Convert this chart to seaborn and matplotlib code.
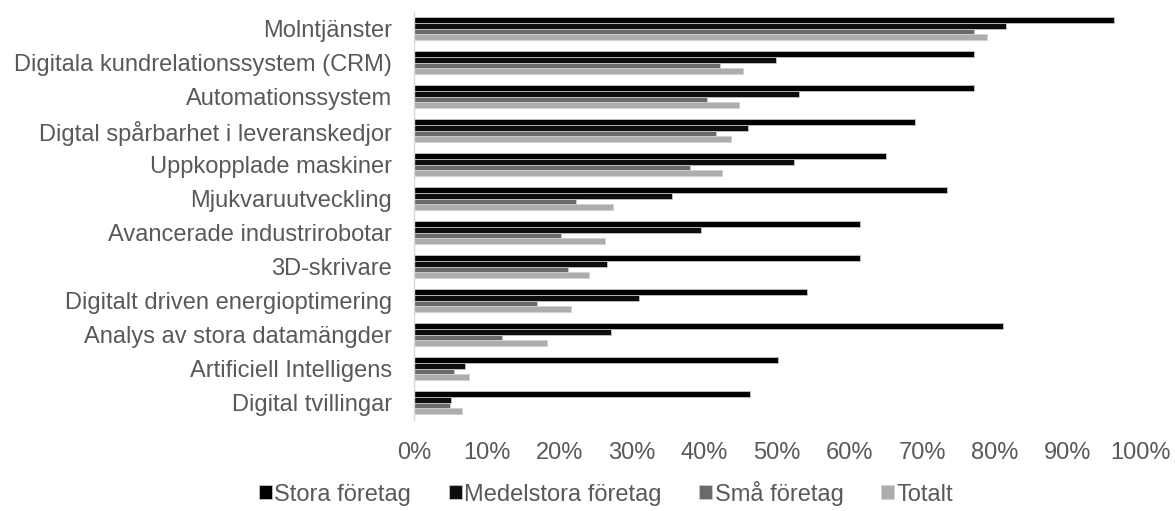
import matplotlib
matplotlib.use("Agg")
import matplotlib.pyplot as plt
import matplotlib.ticker as mticker
import pandas as pd
import seaborn as sns

# Share of companies using each digital technology, by company size (%)
categories = [
    "Molntjänster",
    "Digitala kundrelationssystem (CRM)",
    "Automationssystem",
    "Digtal spårbarhet i leveranskedjor",
    "Uppkopplade maskiner",
    "Mjukvaruutveckling",
    "Avancerade industrirobotar",
    "3D-skrivare",
    "Digitalt driven energioptimering",
    "Analys av stora datamängder",
    "Artificiell Intelligens",
    "Digital tvillingar",
]
stora = [96.4, 77.1, 77.1, 69.0, 65.0, 73.4, 61.5, 61.5, 54.1, 81.1, 50.1, 46.3]
medelstora = [81.5, 49.9, 53.0, 46.0, 52.3, 35.5, 39.5, 26.6, 31.0, 27.1, 7.0, 5.1]
sma = [77.1, 42.1, 40.4, 41.6, 38.0, 22.3, 20.2, 21.2, 16.9, 12.1, 5.5, 5.0]
totalt = [78.9, 45.3, 44.8, 43.7, 42.4, 27.4, 26.3, 24.1, 21.6, 18.3, 7.6, 6.6]

series_names = ["Stora företag", "Medelstora företag", "Små företag", "Totalt"]
series_values = [stora, medelstora, sma, totalt]
palette = ["#000000", "#0d0d0d", "#6a6a6a", "#adadad"]

rows = []
for name, vals in zip(series_names, series_values):
    for cat, v in zip(categories, vals):
        rows.append({"Teknik": cat, "Grupp": name, "Andel": v / 100.0})
df = pd.DataFrame(rows)

sns.set_style("white")
plt.rcParams["font.family"] = ["Liberation Sans", "DejaVu Sans"]
text_color = "#595959"

fig = plt.figure(figsize=(11.75, 5.11), dpi=100)
ax = fig.add_axes([414 / 1175, 91.5 / 511, (1140 - 414) / 1175, (499.5 - 91.5) / 511])

sns.barplot(
    data=df, y="Teknik", x="Andel", hue="Grupp",
    order=categories, hue_order=series_names, palette=palette,
    orient="h", width=0.68, gap=0, errorbar=None,
    edgecolor="#d0d0d0", linewidth=0.5, saturation=1, ax=ax,
)

ax.set_xlim(0, 1)
ax.set_ylim(len(categories) - 0.5, -0.5)
ax.xaxis.set_major_locator(mticker.MultipleLocator(0.1))
ax.xaxis.set_major_formatter(mticker.PercentFormatter(1.0, decimals=0))
ax.set_xlabel("")
ax.set_ylabel("")

for side in ["top", "right", "bottom"]:
    ax.spines[side].set_visible(False)
ax.spines["left"].set_color("#d9d9d9")
ax.spines["left"].set_linewidth(1.0)

ax.tick_params(axis="y", length=0, pad=16, labelsize=17, labelcolor=text_color)
ax.tick_params(axis="x", length=0, pad=16, labelsize=17, labelcolor=text_color)
ax.grid(False)

handles, labels = ax.get_legend_handles_labels()
ax.get_legend().remove()
fig.legend(
    handles, labels, loc="center", bbox_to_anchor=(606 / 1175, 1 - 493 / 511),
    ncol=4, frameon=False, fontsize=17, labelcolor=text_color,
    handlelength=0.55, handleheight=0.55, handletextpad=0.1, columnspacing=1.6,
)

fig.savefig("out.png", dpi=100)
